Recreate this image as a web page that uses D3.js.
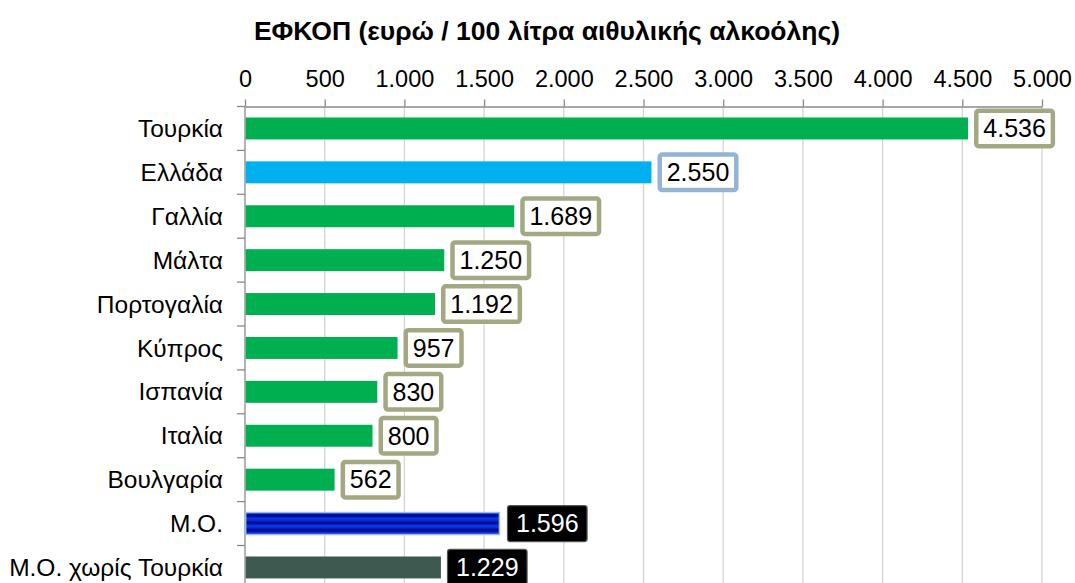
<!DOCTYPE html>
<html>
<head>
<meta charset="utf-8">
<script src="https://cdn.jsdelivr.net/npm/d3@7"></script>
<style>
  html, body { margin: 0; padding: 0; background: #fff; }
  svg { display: block; }
  text { font-family: Arial, "Liberation Sans", sans-serif; }
</style>
</head>
<body>
<svg id="chart" width="1075" height="583"></svg>
<script>
// ---- data ----
const title = "ΕΦΚΟΠ (ευρώ / 100 λίτρα αιθυλικής αλκοόλης)";
const categories = ["Τουρκία", "Ελλάδα", "Γαλλία", "Μάλτα", "Πορτογαλία", "Κύπρος", "Ισπανία", "Ιταλία", "Βουλγαρία", "Μ.Ο.", "Μ.Ο. χωρίς Τουρκία"];
const values = [4536, 2550, 1689, 1250, 1192, 957, 830, 800, 562, 1596, 1229];
const barKinds = ["country", "greece", "country", "country", "country", "country", "country", "country", "country", "avg", "avgNoTr"];
const tickValues = [0, 500, 1000, 1500, 2000, 2500, 3000, 3500, 4000, 4500, 5000];

// ---- styles ----
const fills = { country: "#00b050", greece: "#00b0f0", avg: "url(#stripes)", avgNoTr: "#3d5a50" };
const labelStyle = {
  country: { fill: "#ffffff", stroke: "#a4a882", sw: 4.5, text: "#000000" },
  greece:  { fill: "#ffffff", stroke: "#94b4d6", sw: 4.5, text: "#000000" },
  avg:     { fill: "#000000", stroke: "#555555", sw: 1.2, text: "#ffffff" },
  avgNoTr: { fill: "#000000", stroke: "#555555", sw: 1.2, text: "#ffffff" }
};

const locale = d3.formatLocale({ decimal: ",", thousands: ".", grouping: [3], currency: ["", "€"] });
const fmt = locale.format(",d");

const svg = d3.select("#chart");
const defs = svg.append("defs");
const pat = defs.append("pattern").attr("id", "stripes").attr("patternUnits", "userSpaceOnUse")
  .attr("width", 10).attr("height", 7.3).attr("y", 0);
const grad = defs.append("linearGradient").attr("id", "stripeGrad").attr("x1", 0).attr("x2", 0).attr("y1", 0).attr("y2", 1);
grad.append("stop").attr("offset", "0%").attr("stop-color", "#0a3cf0");
grad.append("stop").attr("offset", "35%").attr("stop-color", "#0028c8");
grad.append("stop").attr("offset", "60%").attr("stop-color", "#00008a");
grad.append("stop").attr("offset", "80%").attr("stop-color", "#0018a8");
grad.append("stop").attr("offset", "100%").attr("stop-color", "#0a3cf0");
pat.append("rect").attr("width", 10).attr("height", 7.3).attr("fill", "url(#stripeGrad)");

const x = d3.scaleLinear().domain([0, 5000]).range([245, 1042]);
const y = d3.scaleBand().domain(categories).range([106.5, 589.4]).paddingInner(0.5).paddingOuter(0.25);

// title
svg.append("text").attr("x", 547).attr("y", 40).attr("text-anchor", "middle")
  .style("font-size", "26.5px").style("font-weight", "bold").attr("fill", "#000").text(title);

// gridlines
svg.append("g").selectAll("line").data(tickValues.slice(1)).join("line")
  .attr("x1", d => x(d)).attr("x2", d => x(d)).attr("y1", 106.5).attr("y2", 600)
  .attr("stroke", "#d4d4d4").attr("stroke-width", 1.3);

// top axis
const xAxis = d3.axisTop(x).tickValues(tickValues).tickFormat(fmt).tickSizeInner(7).tickSizeOuter(0).tickPadding(13);
const gx = svg.append("g").attr("transform", "translate(0,106.5)").call(xAxis);
gx.select(".domain").attr("stroke", "#8a8a8a").attr("stroke-width", 1.3);
gx.selectAll(".tick line").attr("stroke", "#8a8a8a").attr("stroke-width", 1.3);
gx.selectAll(".tick text").style("font-size", "23.5px").attr("fill", "#000").style("font-family", "Arial, 'Liberation Sans', sans-serif");

// left axis line and boundary ticks
const step = y.step();
const top0 = y(categories[0]) - step * y.paddingOuter();
const bounds = d3.range(categories.length + 1).map(i => top0 + i * step);
svg.append("line").attr("x1", 245).attr("x2", 245).attr("y1", 106.5).attr("y2", 600)
  .attr("stroke", "#8a8a8a").attr("stroke-width", 1.3);
svg.append("g").selectAll("line").data(bounds).join("line")
  .attr("x1", 237).attr("x2", 245).attr("y1", d => d).attr("y2", d => d)
  .attr("stroke", "#8a8a8a").attr("stroke-width", 1.3);

// category labels
svg.append("g").selectAll("text").data(categories).join("text")
  .attr("x", 223).attr("y", d => y(d) + y.bandwidth() / 2).attr("dy", "0.35em")
  .attr("text-anchor", "end").style("font-size", "24.5px").attr("fill", "#000").text(d => d);

// bars
const rows = categories.map((c, i) => ({ c, v: values[i], k: barKinds[i] }));
svg.append("g").selectAll("rect").data(rows).join("rect")
  .attr("x", x(0) + 0.7).attr("y", d => y(d.c)).attr("width", d => x(d.v) - x(0) - 0.7)
  .attr("height", y.bandwidth()).attr("fill", d => fills[d.k])
  .attr("stroke", d => d.k === "avg" ? "#9cbde0" : "none").attr("stroke-width", 1.5);

// value labels
const lg = svg.append("g");
rows.forEach(d => {
  const st = labelStyle[d.k];
  const g = lg.append("g");
  const cy = y(d.c) + y.bandwidth() / 2;
  const t = g.append("text").attr("y", cy).attr("dy", "0.35em").style("font-size", "25px")
    .attr("fill", st.text).text(fmt(d.v));
  const w = t.node().getComputedTextLength();
  const padX = d.k.startsWith("avg") ? 8.5 : 7;
  const h = d.k.startsWith("avg") ? 36 : 35.5;
  const left = x(d.v) + (d.k === "avg" ? 7.5 : 6);
  const rw = w + 2 * padX;
  g.insert("rect", "text")
    .attr("x", left + st.sw / 2).attr("y", cy - h / 2)
    .attr("width", rw).attr("height", h).attr("rx", 2.5)
    .attr("fill", st.fill).attr("stroke", st.stroke).attr("stroke-width", st.sw);
  t.attr("x", left + st.sw / 2 + padX);
});
</script>
</body>
</html>
